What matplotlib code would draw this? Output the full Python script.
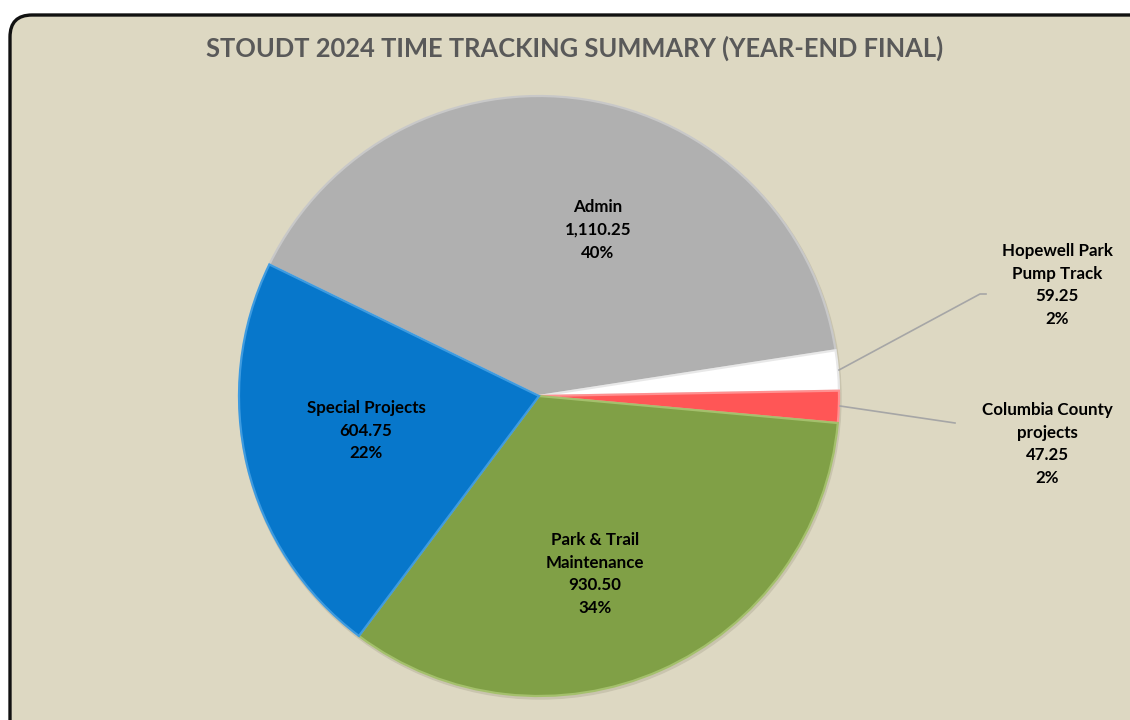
import matplotlib.pyplot as plt
from matplotlib.patches import FancyBboxPatch

# data
categories = ["Admin", "Hopewell Park\nPump Track", "Columbia County\nprojects",
              "Park & Trail\nMaintenance", "Special Projects"]
hours = [1110.25, 59.25, 47.25, 930.50, 604.75]
colors = ["#B0B0B0", "#FFFFFF", "#FF5656", "#80A046", "#0777CB"]
edge_colors = ["#C8C8C8", "#E8E8E8", "#FF9090", "#A4C06C", "#3E9BE0"]

# label centres (pixel coords, y from top)
label_pos = [(598, 230), (1057, 285), (1047, 444), (595, 574), (366, 431)]
# leader lines for the small slices, pixel coords
leaders = {1: [(839, 370), (980, 294), (986, 294)],
           2: [(840, 406), (955, 423)]}

W, H = 1130, 720
plt.rcParams["font.family"] = ["Lato", "DejaVu Sans"]

fig = plt.figure(figsize=(W / 100, H / 100), dpi=100)
fig.patch.set_facecolor("white")
ax = fig.add_axes([0, 0, 1, 1])

# rounded frame
frame = FancyBboxPatch((10, -40), W + 40, H - 13 + 40 - 2,
                       boxstyle="round,pad=0,rounding_size=22",
                       facecolor="#DDD8C2", edgecolor="#111111", linewidth=2.4)
ax.add_patch(frame)

ax.text(575, H - 48, "STOUDT 2024 TIME TRACKING SUMMARY (YEAR-END FINAL)",
        ha="center", va="center", fontsize=18.4, fontweight="bold", color="#595959")

cx, cy, r = 539, H - 396, 300

# soft shadow
shadow = plt.Circle((cx + 1, cy - 2), r + 1, color="#C9C4AE", zorder=1)
ax.add_patch(shadow)

wedges, _ = ax.pie(hours, colors=colors, startangle=154, counterclock=False,
                   center=(cx, cy), radius=r, frame=True,
                   wedgeprops=dict(linewidth=1.6))
for w, ec in zip(wedges, edge_colors):
    w.set_edgecolor(ec)
    w.set_zorder(2)
ax.set_xlim(0, W)
ax.set_ylim(0, H)
ax.axis("off")

total = sum(hours)
for i, (name, val) in enumerate(zip(categories, hours)):
    pct = round(val / total * 100)
    txt = f"{name}\n{val:,.2f}\n{pct}%"
    x, y = label_pos[i]
    ax.text(x, H - y, txt, ha="center", va="center", fontsize=12.2,
            fontweight="bold", color="black", linespacing=1.5, zorder=5)

for i, pts in leaders.items():
    xs = [p[0] for p in pts]
    ys = [H - p[1] for p in pts]
    ax.plot(xs, ys, color="#A6A6A6", linewidth=1.2, zorder=4)

fig.savefig("out.png", dpi=100)
